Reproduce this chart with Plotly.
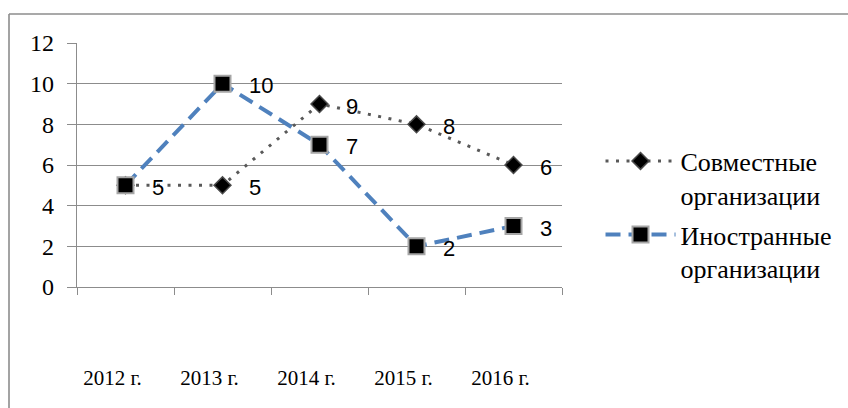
import plotly.graph_objects as go

years = ["2012 г.", "2013 г.", "2014 г.", "2015 г.", "2016 г."]
joint = [5, 5, 9, 8, 6]
foreign = [5, 10, 7, 2, 3]
name_joint = "Совместные<br>организации"
name_foreign = "Иностранные<br>организации"
y_ticks = [0, 2, 4, 6, 8, 10, 12]

SERIF = "Liberation Serif"
SANS = "Liberation Sans"
GRID = "#8c8c8c"

fig = go.Figure()
fig.add_trace(go.Scatter(
    x=years, y=joint, name=name_joint, mode="lines+markers", legendgroup="a",
    line=dict(color="#595959", width=3, dash="3px,7.5px"),
    marker=dict(symbol="diamond", size=13, color="black",
                line=dict(color="#4a4a4a", width=1.5)),
))
fig.add_trace(go.Scatter(
    x=years, y=foreign, name=name_foreign, mode="lines+markers", legendgroup="b",
    line=dict(color="#4F81BD", width=4, dash="15px,8px"),
    marker=dict(symbol="square", size=16, color="black",
                line=dict(color="#a6a6a6", width=2)),
))

# data labels (only one label shown where both series share a point)
for i, (xv, yv) in enumerate(zip(years, joint)):
    if i == 0:
        continue
    fig.add_annotation(x=xv, y=yv, text=str(yv), showarrow=False,
                       xanchor="left", yanchor="middle", xshift=24, yshift=-2,
                       font=dict(family=SANS, size=22, color="black"))
for xv, yv in zip(years, foreign):
    fig.add_annotation(x=xv, y=yv, text=str(yv), showarrow=False,
                       xanchor="left", yanchor="middle", xshift=24, yshift=-2,
                       font=dict(family=SANS, size=22, color="black"))

# outer frame (left and top edges visible in the picture)
fig.add_shape(type="line", xref="paper", yref="paper",
              x0=-0.1402, x1=1.7, y0=1.1189, y1=1.1189,
              line=dict(color="#8c8c8c", width=1.6), layer="above")
fig.add_shape(type="line", xref="paper", yref="paper",
              x0=-0.1402, x1=-0.1402, y0=-0.7, y1=1.1189,
              line=dict(color="#8c8c8c", width=1.6), layer="above")

fig.update_layout(
    width=848, height=408,
    margin=dict(l=77, r=286, t=43, b=121),
    paper_bgcolor="white", plot_bgcolor="white",
    font=dict(family=SERIF, size=22, color="black"),
    showlegend=True,
    legend=dict(x=1.0794, y=0.295, xanchor="left", yanchor="middle",
                font=dict(family=SERIF, size=26, color="black"),
                itemwidth=70, valign="top", tracegroupgap=3,
                bgcolor="rgba(0,0,0,0)"),
)
fig.update_xaxes(
    type="category", tickson="boundaries", ticks="outside", ticklen=7,
    tickcolor=GRID, tickwidth=1.3, showline=True, linecolor=GRID, linewidth=1.3,
    showgrid=False, ticklabelstandoff=72, ticklabelshift=-13,
    tickfont=dict(family=SERIF, size=21, color="black"),
    range=[-0.5, 4.5], fixedrange=True,
)
fig.update_yaxes(
    range=[0, 12], tickvals=y_ticks, ticks="outside", ticklen=9,
    tickcolor=GRID, tickwidth=1.3, showline=True, linecolor=GRID, linewidth=1.3,
    showgrid=True, gridcolor=GRID, gridwidth=1.3, zeroline=False,
    tickfont=dict(family=SERIF, size=24, color="black"), ticklabelstandoff=8,
    fixedrange=True,
)

fig.write_html("out.html", config={"displayModeBar": False},
               post_script="document.body.style.margin='0';document.body.style.overflow='hidden';")
